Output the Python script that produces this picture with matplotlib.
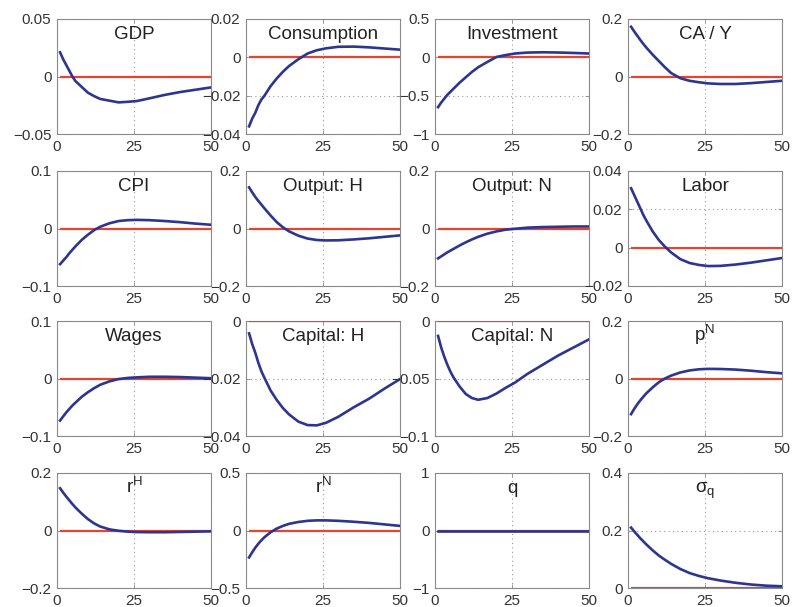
import matplotlib
matplotlib.use("Agg")
import matplotlib.pyplot as plt

plt.rcParams['font.family'] = ['Liberation Sans', 'DejaVu Sans']
plt.rcParams['mathtext.fontset'] = 'custom'
plt.rcParams['mathtext.rm'] = 'Liberation Sans'
plt.rcParams['mathtext.it'] = 'Liberation Sans'

# Horizon (quarters) at which each response is recorded
periods = [1, 2, 3, 4, 5, 6, 8, 10, 12, 14, 17, 20, 23, 26, 30, 35, 40, 45, 50]

gdp = [0.021, 0.015, 0.010, 0.005, 0.000, -0.004, -0.009, -0.014, -0.017, -0.0195,
       -0.021, -0.0225, -0.022, -0.0213, -0.019, -0.016, -0.0135, -0.0115, -0.0095]
consumption = [-0.036, -0.032, -0.029, -0.025, -0.022, -0.020, -0.015, -0.011,
               -0.0075, -0.0045, -0.001, 0.002, 0.0037, 0.0047, 0.0055, 0.0056,
               0.0052, 0.0046, 0.004]
investment = [-0.65, -0.59, -0.54, -0.49, -0.45, -0.41, -0.33, -0.26, -0.19,
              -0.13, -0.06, 0.005, 0.03, 0.05, 0.062, 0.066, 0.063, 0.057, 0.05]
ca_y = [0.173, 0.157, 0.142, 0.127, 0.113, 0.100, 0.076, 0.054, 0.032, 0.012,
        -0.006, -0.015, -0.020, -0.024, -0.026, -0.026, -0.023, -0.019, -0.015]
cpi = [-0.062, -0.056, -0.050, -0.043, -0.037, -0.031, -0.020, -0.011, -0.003,
       0.003, 0.009, 0.013, 0.0145, 0.015, 0.0145, 0.013, 0.011, 0.0085, 0.0065]
output_h = [0.143, 0.126, 0.110, 0.096, 0.083, 0.070, 0.045, 0.022, 0.004, -0.010,
            -0.025, -0.035, -0.040, -0.0415, -0.041, -0.038, -0.034, -0.029, -0.024]
output_n = [-0.104, -0.097, -0.090, -0.083, -0.077, -0.071, -0.059, -0.048, -0.038,
            -0.029, -0.018, -0.010, -0.004, -0.001, 0.003, 0.005, 0.006, 0.007, 0.007]
labor = [0.031, 0.0275, 0.024, 0.0205, 0.017, 0.014, 0.0085, 0.004, 0.0005,
         -0.0025, -0.006, -0.008, -0.009, -0.0096, -0.0095, -0.0088, -0.0078,
         -0.0066, -0.0054]
wages = [-0.073, -0.066, -0.059, -0.053, -0.047, -0.042, -0.032, -0.024, -0.017,
         -0.011, -0.005, -0.001, 0.001, 0.002, 0.003, 0.003, 0.0025, 0.0015, 0.0005]
capital_h = [-0.0043, -0.008, -0.011, -0.0145, -0.0175, -0.0198, -0.0242, -0.0275,
             -0.0303, -0.0325, -0.035, -0.0362, -0.0363, -0.0354, -0.0333, -0.030,
             -0.027, -0.0235, -0.0202]
capital_n = [-0.013, -0.023, -0.031, -0.038, -0.044, -0.049, -0.057, -0.0635,
             -0.067, -0.0685, -0.067, -0.063, -0.058, -0.0535, -0.046, -0.038,
             -0.030, -0.023, -0.016]
p_n = [-0.124, -0.106, -0.090, -0.076, -0.063, -0.051, -0.031, -0.013, 0.000,
       0.010, 0.021, 0.028, 0.032, 0.0335, 0.033, 0.031, 0.027, 0.022, 0.018]
r_h = [0.147, 0.132, 0.118, 0.105, 0.092, 0.080, 0.059, 0.040, 0.025, 0.014,
       0.004, -0.001, -0.004, -0.0055, -0.006, -0.006, -0.005, -0.004, -0.003]
r_n = [-0.234, -0.190, -0.150, -0.115, -0.085, -0.058, -0.015, 0.017, 0.040,
       0.058, 0.074, 0.084, 0.088, 0.088, 0.084, 0.076, 0.066, 0.053, 0.040]
q = [0.0] * len(periods)
sigma_q = [0.210, 0.197, 0.185, 0.173, 0.162, 0.151, 0.131, 0.113, 0.098, 0.084,
           0.066, 0.052, 0.042, 0.034, 0.026, 0.018, 0.012, 0.008, 0.006]

# Steady-state (zero) reference
baseline = [0.0] * len(periods)

titles = ['GDP', 'Consumption', 'Investment', 'CA / Y',
          'CPI', 'Output: H', 'Output: N', 'Labor',
          'Wages', 'Capital: H', 'Capital: N', r'$\mathrm{p^N}$',
          r'$\mathrm{r^H}$', r'$\mathrm{r^N}$', 'q', r'$\sigma_\mathrm{q}$']
series = [gdp, consumption, investment, ca_y,
          cpi, output_h, output_n, labor,
          wages, capital_h, capital_n, p_n,
          r_h, r_n, q, sigma_q]
yticks = [[-0.05, 0, 0.05], [-0.04, -0.02, 0, 0.02], [-1, -0.5, 0, 0.5], [-0.2, 0, 0.2],
          [-0.1, 0, 0.1], [-0.2, 0, 0.2], [-0.2, 0, 0.2], [-0.02, 0, 0.02, 0.04],
          [-0.1, 0, 0.1], [-0.04, -0.02, 0], [-0.1, -0.05, 0], [-0.2, 0, 0.2],
          [-0.2, 0, 0.2], [-0.5, 0, 0.5], [-1, 0, 1], [0, 0.2, 0.4]]
xticks = [0, 25, 50]

W, H = 793, 607
fig = plt.figure(figsize=(W / 100, H / 100), dpi=100)
fig.patch.set_facecolor('white')

col_left = [57, 246, 435, 628]
row_top = [19, 171, 321, 473]
ax_w, ax_h = 154, 115

blue = '#2c3590'
red = '#e4452f'
edge = '#8a8a8a'
txt = '#333333'


def fmt(v):
    s = '%g' % v
    return s.replace('-', '\u2212')


for i, (title, vals, yt) in enumerate(zip(titles, series, yticks)):
    r, c = divmod(i, 4)
    ax = fig.add_axes([col_left[c] / W, 1 - (row_top[r] + ax_h) / H, ax_w / W, ax_h / H])
    ax.plot(periods, baseline, color=red, lw=1.6, solid_capstyle='butt', zorder=3)
    ax.plot(periods, vals, color=blue, lw=1.9, zorder=4)
    ax.set_xlim(0, 50)
    ax.set_ylim(yt[0], yt[-1])
    ax.set_xticks(xticks)
    ax.set_xticklabels([fmt(v) for v in xticks])
    ax.set_yticks(yt)
    ax.set_yticklabels([fmt(v) for v in yt])
    ax.grid(True, linestyle=(0, (1, 3)), color='#9a9a9a', lw=0.8)
    ax.tick_params(direction='in', length=3, width=0.6, colors=edge,
                   labelcolor=txt, labelsize=11, top=True, right=True)
    ax.tick_params(axis='x', pad=4)
    ax.tick_params(axis='y', pad=4)
    for sp in ax.spines.values():
        sp.set_color(edge)
        sp.set_linewidth(0.8)
    ax.text(0.5, 0.825, title, transform=ax.transAxes, ha='center', va='baseline',
            fontsize=13.5, color='#222222', zorder=5)

fig.savefig('out.png', dpi=100, facecolor='white')
